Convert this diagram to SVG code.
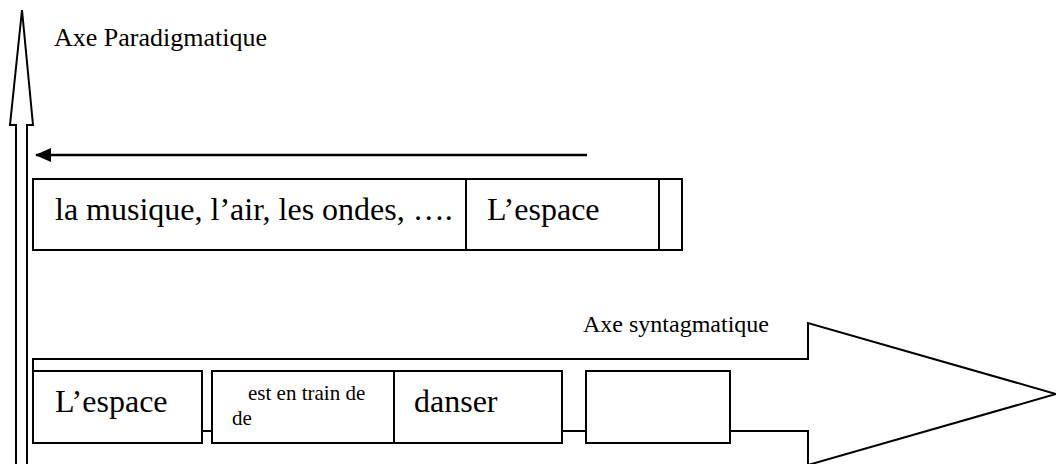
<svg xmlns="http://www.w3.org/2000/svg" width="1056" height="464" viewBox="0 0 1056 464">
<style>
.s{fill:#fff;stroke:#000;stroke-width:2}
.t{fill:#000;font-family:"Liberation Serif","Times New Roman",serif}
.big{font-size:32px}
.sm{font-size:24px}
.xs{font-size:21px}
</style>
<defs>
<marker id="ah" markerWidth="16" markerHeight="14" refX="15" refY="7" orient="auto" markerUnits="userSpaceOnUse">
<path d="M0,0 L16,7 L0,14 Z" fill="#000"/>
</marker>
</defs>
<rect width="1056" height="464" fill="#fff"/>
<g id="axe-paradigmatique">
<polygon class="s" points="22,10 33,125 27,125 27,470 16,470 16,125 10,125"/>
<text class="t" font-size="26" x="54" y="46">Axe Paradigmatique</text>
</g>
<g id="connectors">
<line x1="587" y1="155" x2="36" y2="155" stroke="#000" stroke-width="2.5" marker-end="url(#ah)"/>
</g>
<g id="paradigme">
<rect class="s" x="33" y="179" width="649" height="71"/>
<line x1="466" y1="179" x2="466" y2="250" stroke="#000" stroke-width="2"/>
<line x1="659" y1="179" x2="659" y2="250" stroke="#000" stroke-width="2"/>
<text class="t big" x="55" y="220">la musique, l’air, les ondes, ….</text>
<text class="t big" x="487" y="220">L’espace</text>
</g>
<g id="axe-syntagmatique">
<polygon class="s" points="33,359 808,359 808,323 1056,394 808,465 808,431 33,431"/>
<text class="t sm" x="583" y="332">Axe syntagmatique</text>
</g>
<g id="box1">
<rect class="s" x="33" y="371" width="169" height="72"/>
<text class="t big" x="55" y="412">L’espace</text>
</g>
<g id="box2">
<rect class="s" x="212" y="371" width="182" height="72"/>
<text class="t xs" x="248" y="400">est en train de</text>
<text class="t xs" x="232" y="425">de</text>
</g>
<g id="box3">
<rect class="s" x="394" y="371" width="168" height="72"/>
<text class="t big" x="414" y="412">danser</text>
</g>
<g id="box4">
<rect class="s" x="586" y="371" width="144" height="72"/>
</g>
</svg>
